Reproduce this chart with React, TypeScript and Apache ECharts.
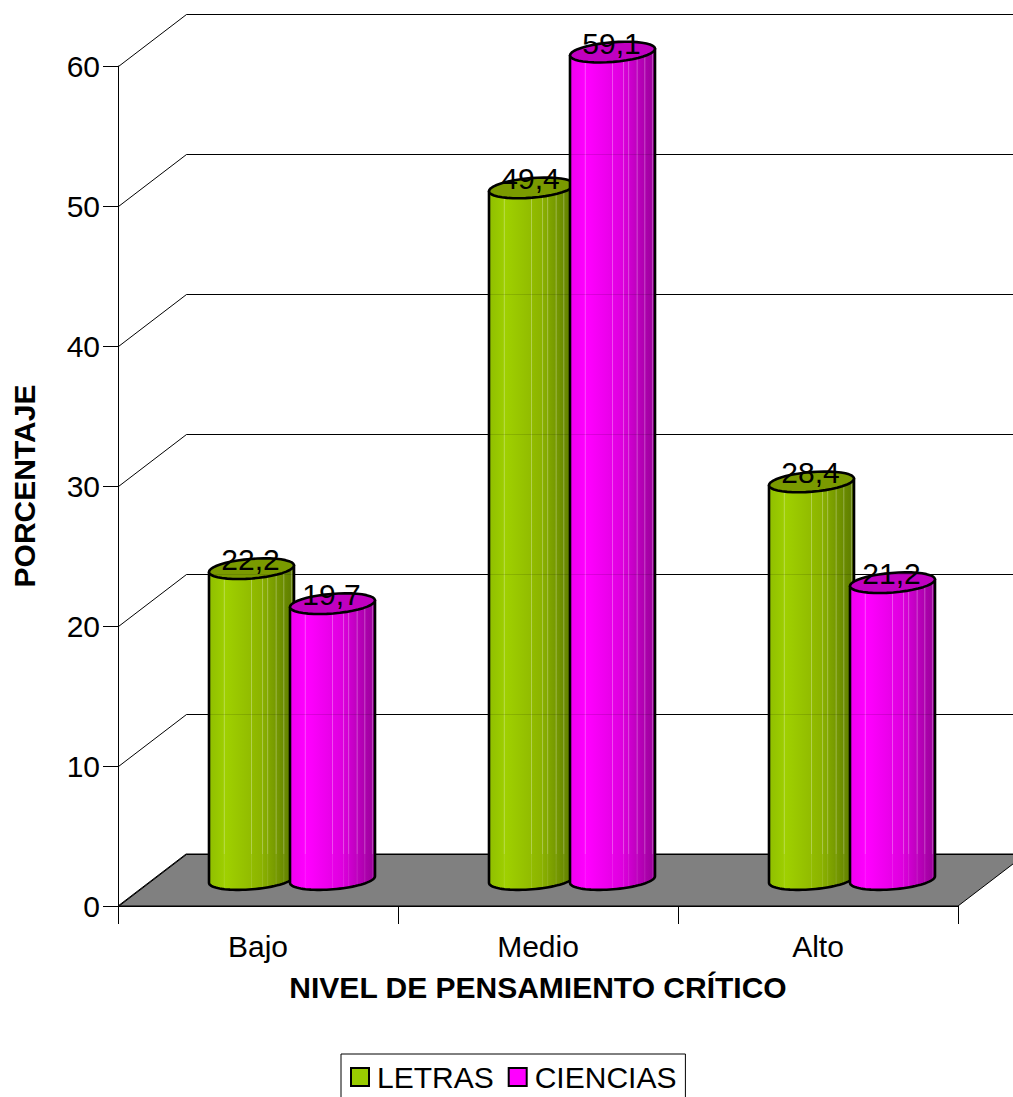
import React, { useEffect, useRef } from "react";
import * as echarts from "echarts";

const categories = ["Bajo", "Medio", "Alto"];
const letras = [22.2, 49.4, 28.4];
const ciencias = [19.7, 59.1, 21.2];
const wallTicks = [0, 10, 20, 30, 40, 50, 60];

const FONT = "Liberation Sans";
const DEPTH_X = 68;
const DEPTH_Y = 52;
const BAR_WIDTH = 85;
const TILT = 7;
const MINOR = 9.8;
const STRIPES = [0.18, 0.5, 0.63, 0.69, 0.79, 0.88, 0.97];

// Points along a tilted ellipse, from angle a0 to a1, centred between (x0,y0) and (x1,y1).
function ellipsePoints(x0: number, y0: number, x1: number, y1: number, a0: number, a1: number) {
  const cx = (x0 + x1) / 2;
  const cy = (y0 + y1) / 2;
  const half = Math.hypot(x1 - x0, y1 - y0) / 2;
  const ux = (x1 - x0) / (2 * half);
  const uy = (y1 - y0) / (2 * half);
  const pts: number[][] = [];
  const steps = 40;
  for (let k = 0; k <= steps; k++) {
    const a = a0 + ((a1 - a0) * k) / steps;
    const p = half * Math.cos(a);
    const q = MINOR * Math.sin(a);
    pts.push([cx + p * ux - q * uy, cy + p * uy + q * ux]);
  }
  return pts;
}

// Cylinder body and its tilted top ellipse, placed in pseudo-3D depth behind the axis plane.
function cylinder(offset: number, topColor: string, stops: any[], labels: string[]) {
  return (params: any, api: any) => {
    const i = api.value(0);
    const v = api.value(1);
    const [cx, yTop] = api.coord([i, v]);
    const [, yZero] = api.coord([i, 0]);
    const left = cx + offset;
    const right = left + BAR_WIDTH;
    const topL = yTop - 23;
    const topR = topL - TILT;
    const botL = yZero - 23;
    const botR = botL - TILT;
    const floorY = yZero - DEPTH_Y;
    const lowerArc = ellipsePoints(left, botL, right, botR, Math.PI, 0);
    const bodyPoints = [[left, topL], ...lowerArc, [right, topR]];
    const lidPoints = ellipsePoints(left, topL, right, topR, 0, Math.PI * 2).slice(0, -1);
    const children: any[] = [
      {
        type: "polygon",
        shape: { points: bodyPoints },
        style: {
          fill: new echarts.graphic.LinearGradient(0, 0, 1, 0, stops),
          stroke: null,
        },
      },
    ];
    for (const f of STRIPES) {
      const x = left + f * BAR_WIDTH;
      const yBottom =
        botL - TILT * f + MINOR * Math.sqrt(Math.max(0, 1 - (2 * f - 1) ** 2));
      const yUpper = topL - TILT * f;
      children.push(
        {
          type: "line",
          shape: { x1: x, y1: yUpper, x2: x, y2: floorY },
          style: { stroke: "#fff", opacity: 0.3, lineWidth: 1 },
        },
        {
          type: "line",
          shape: { x1: x, y1: floorY, x2: x, y2: yBottom },
          style: { stroke: "#fff", opacity: 0.12, lineWidth: 1 },
        }
      );
    }
    children.push(
      {
        type: "polygon",
        shape: { points: bodyPoints },
        style: { fill: null, stroke: "#000", lineWidth: 2.6, lineJoin: "round" },
      },
      {
        type: "polygon",
        shape: { points: lidPoints },
        style: { fill: topColor, stroke: "#000", lineWidth: 2.6, lineJoin: "round" },
      },
      {
        type: "text",
        style: {
          x: (left + right) / 2 - 1,
          y: topL - 12.5,
          text: labels[i],
          fontFamily: FONT,
          fontSize: 30,
          fill: "#000",
          align: "center",
          verticalAlign: "middle",
        },
      }
    );
    return { type: "group", children };
  };
}

// Gray floor plus the perspective gridlines on the side and back walls.
function renderFloor(params: any) {
  const { x, y, width, height } = params.coordSys;
  const b = y + height;
  return {
    type: "polygon",
    shape: {
      points: [
        [x, b],
        [x + width, b],
        [x + width + DEPTH_X, b - DEPTH_Y],
        [x + DEPTH_X, b - DEPTH_Y],
      ],
    },
    style: { fill: "#808080", stroke: "#000", lineWidth: 1 },
  };
}

function renderWall(params: any, api: any) {
  const { x, width } = params.coordSys;
  const [, yy] = api.coord([0, api.value(0)]);
  const py = Math.round(yy) + 0.5;
  return {
    type: "polyline",
    shape: {
      points: [
        [x + 0.5, py],
        [x + DEPTH_X + 0.5, py - DEPTH_Y],
        [x + width + DEPTH_X, py - DEPTH_Y],
      ],
    },
    style: { fill: null, stroke: "#000", lineWidth: 1 },
  };
}

// The back-wall lines show through the cylinders very faintly.
function renderGhost(params: any, api: any) {
  const { x, width } = params.coordSys;
  const [, yy] = api.coord([0, api.value(0)]);
  const py = Math.round(yy) + 0.5 - DEPTH_Y;
  return {
    type: "line",
    shape: { x1: x + DEPTH_X, y1: py, x2: x + width + DEPTH_X, y2: py },
    style: { stroke: "#000", opacity: 0.12, lineWidth: 1 },
  };
}

const greenStops = [
  { offset: 0, color: "#8fbf00" },
  { offset: 0.2, color: "#9fd000" },
  { offset: 0.6, color: "#8db500" },
  { offset: 1, color: "#5c7a00" },
];
const pinkStops = [
  { offset: 0, color: "#f000f0" },
  { offset: 0.2, color: "#ff00ff" },
  { offset: 0.6, color: "#e000e0" },
  { offset: 1, color: "#990099" },
];

export default function App() {
  const ref = useRef<HTMLDivElement>(null);
  useEffect(() => {
    const chart = echarts.init(ref.current!, null, { renderer: "svg" });
    const axisLine = { show: true, lineStyle: { color: "#000", width: 1 } };
    const wallData = wallTicks.map((t) => [t]);
    chart.setOption({
      animation: false,
      backgroundColor: "#fff",
      textStyle: { fontFamily: FONT },
      grid: { left: 118, right: 55, top: 66, bottom: 191, outerBoundsMode: "none" },
      legend: {
        left: 341,
        top: 1054,
        data: [
          { name: "LETRAS", icon: "rect", itemStyle: { color: "#99cc00", borderColor: "#000", borderWidth: 2 } },
          { name: "CIENCIAS", icon: "rect", itemStyle: { color: "#ff00ff", borderColor: "#000", borderWidth: 2 } },
        ],
        orient: "horizontal",
        selectedMode: false,
        padding: [8, 9, 8, 9],
        itemGap: 14,
        itemWidth: 18,
        itemHeight: 18,
        borderColor: "#000",
        borderWidth: 1,
        textStyle: { fontFamily: FONT, fontSize: 30, color: "#000", padding: [0, 0, 0, 3] },
      },
      xAxis: {
        type: "category",
        data: categories,
        name: "NIVEL DE PENSAMIENTO CRÍTICO",
        nameLocation: "middle",
        nameGap: 66,
        nameTextStyle: { fontFamily: FONT, fontSize: 30, fontWeight: "bold", color: "#000" },
        axisLine,
        axisTick: { show: true, length: 18, alignWithLabel: false, lineStyle: { color: "#000" } },
        axisLabel: { margin: 25, fontFamily: FONT, fontSize: 30, color: "#000" },
        splitLine: { show: false },
      },
      yAxis: {
        type: "value",
        min: 0,
        max: 60,
        interval: 10,
        name: "PORCENTAJE",
        nameLocation: "middle",
        nameGap: 79,
        nameTextStyle: { fontFamily: FONT, fontSize: 30, fontWeight: "bold", color: "#000" },
        axisLine,
        axisTick: { show: true, length: 15, lineStyle: { color: "#000" } },
        axisLabel: { margin: 18, fontFamily: FONT, fontSize: 30, color: "#000" },
        splitLine: { show: false },
      },
      series: [
        { type: "custom", name: "piso", z: 1, data: [[0]], encode: { y: 0 }, renderItem: renderFloor, silent: true },
        { type: "custom", name: "paredes", z: 1, data: wallData, encode: { y: 0 }, renderItem: renderWall, silent: true },
        {
          type: "custom",
          name: "LETRAS",
          z: 3,
          data: letras.map((v, i) => [i, v]),
          encode: { x: 0, y: 1 },
          itemStyle: { color: "#99cc00" },
          renderItem: cylinder(-49, "#7a9a00", greenStops, letras.map((v) => v.toFixed(1).replace(".", ","))),
        },
        {
          type: "custom",
          name: "CIENCIAS",
          z: 4,
          data: ciencias.map((v, i) => [i, v]),
          encode: { x: 0, y: 1 },
          itemStyle: { color: "#ff00ff" },
          renderItem: cylinder(32, "#c000c0", pinkStops, ciencias.map((v) => v.toFixed(1).replace(".", ","))),
        },
        { type: "custom", name: "trama", z: 5, data: wallData.slice(1), encode: { y: 0 }, renderItem: renderGhost, silent: true },
      ],
    });
    return () => chart.dispose();
  }, []);
  return (
    <div
      ref={ref}
      style={{ position: "absolute", left: 0, top: 0, width: 1013, height: 1097 }}
    />
  );
}
